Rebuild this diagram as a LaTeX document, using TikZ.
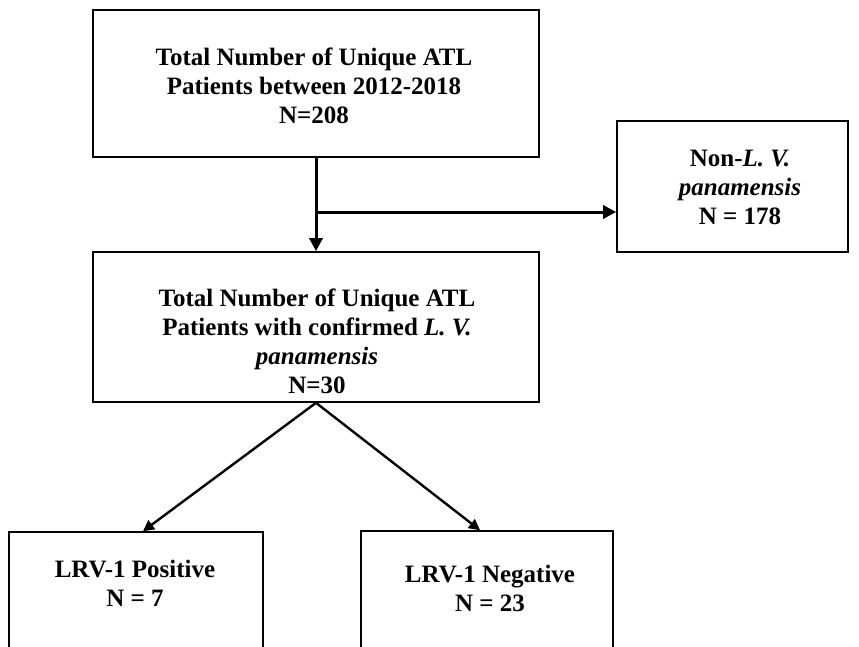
\documentclass[tikz,border=0pt]{standalone}
\usepackage{fontspec}
\setmainfont{Liberation Serif}
\usetikzlibrary{arrows.meta}

\begin{document}
\begin{tikzpicture}[x=1pt,y=-1pt,
    box/.style={draw,line width=1.6pt,rectangle,inner sep=0pt},
    txt/.style={align=center,inner sep=0pt,font=\fontsize{25}{29}\selectfont\bfseries},
    thickarrow/.style={-{Triangle[length=13pt,width=13pt]},line width=3pt},
    thinarrow/.style={-{Triangle[length=11pt,width=11pt]},line width=2.4pt}]
    \useasboundingbox (0,0) rectangle (859,646);
    \clip (0,0) rectangle (859,646);

    % Boxes
    \node[box,minimum width=446pt,minimum height=147pt] (total) at (316,83.5) {};
    \node[box,minimum width=446pt,minimum height=150pt] (confirmed) at (316,327) {};
    \node[box,minimum width=231pt,minimum height=131pt] (non) at (732.5,186.5) {};
    \node[box,minimum width=254pt,minimum height=200pt] (pos) at (136,632) {};
    \node[box,minimum width=252pt,minimum height=200pt] (neg) at (487,631) {};

    % Texts
    \node[txt] (total-txt) at (314,86) {Total Number of Unique ATL\\Patients between 2012-2018\\N=208};
    \node[txt] (confirmed-txt) at (317,341) {Total Number of Unique ATL\\Patients with confirmed {\itshape L. V.}\\{\itshape panamensis}\\N=30};
    \node[txt] (non-txt) at (740,187) {Non-{\itshape L. V.}\\{\itshape panamensis}\\N = 178};
    \node[txt] (pos-txt) at (135,583) {LRV-1 Positive\\N = 7};
    \node[txt] (neg-txt) at (490,588) {LRV-1 Negative\\N = 23};

    % Arrows
    \coordinate (split) at (316,212);
    \draw[thickarrow] (total.south) -- (confirmed.north);
    \draw[thickarrow] (split) -- (split -| non.west);
    \draw[thinarrow] (confirmed.south) -- ([xshift=7pt]pos.north);
    \draw[thinarrow] (confirmed.south) -- ([xshift=-7pt]neg.north);
\end{tikzpicture}
\end{document}
